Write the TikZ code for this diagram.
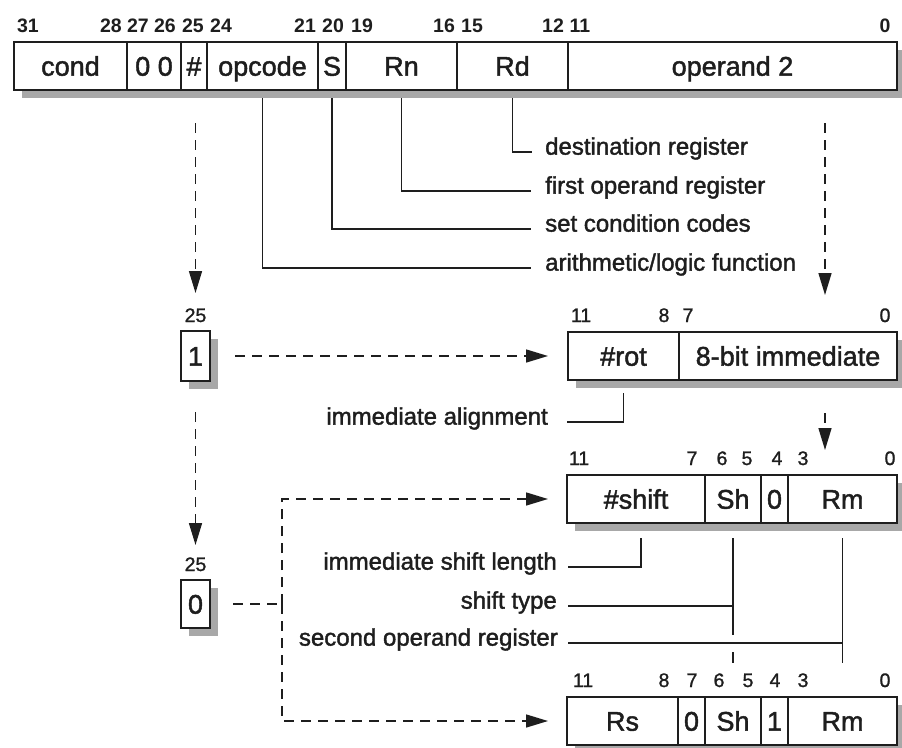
\documentclass[tikz,border=0pt]{standalone}
\usepackage{fontspec}
\setmainfont{Liberation Sans}
\newfontfamily\medfont{Liberation Sans}[FakeBold=1.6]
\newfontfamily\lowfont{Liberation Sans}[FakeBold=1.2]
\newfontfamily\topdigits{Liberation Sans Bold}
\usetikzlibrary{arrows.meta,backgrounds}
\definecolor{ink}{HTML}{1E1E1E}
\definecolor{shade}{HTML}{A8A8A8}
\begin{document}
\begin{tikzpicture}[x=1pt,y=-1pt,
  fld/.style={draw=ink, line width=1.8pt, fill=white, inner sep=0pt, outer sep=0pt,
    minimum height=48pt, anchor=north west, font=\medfont\fontsize{27}{30}\selectfont,
    text height=19.4pt, text depth=0pt, text=ink},
  bit/.style={anchor=base, inner sep=0pt, font=\lowfont\fontsize{19.5}{21}\selectfont, text=ink},
  tbit/.style={anchor=base, inner sep=0pt, font=\topdigits\fontsize{19.5}{21}\selectfont, text=ink},
  lab/.style={inner sep=0pt, font=\medfont\fontsize{24}{28}\selectfont, text=ink},
  lead/.style={draw=ink, line width=1.4pt},
  dline/.style={draw=ink, line width=1.5pt, dash pattern=on 10pt off 7pt},
  dsh/.style={dline, -{Triangle[length=22pt,width=13pt]}},
  shd/.style={fill=shade, draw=none}]
\useasboundingbox (0,0) rectangle (902,747);

% ---------- top instruction word ----------
\node[fld, minimum width=113pt] (cond) at (14,42) {cond};
\node[fld, minimum width=54pt]  (zz)   at (127,42) {0 0};
\node[fld, minimum width=26pt]  (hsh)  at (181,42) {\#};
\node[fld, minimum width=111pt] (opc)  at (207,42) {opcode};
\node[fld, minimum width=28pt]  (sbit) at (318,42) {S};
\node[fld, minimum width=111pt] (rn)   at (346,42) {Rn};
\node[fld, minimum width=111pt] (rd)   at (457,42) {Rd};
\node[fld, minimum width=329pt] (op2)  at (568,42) {operand 2};

\node[tbit] (t31) at (28,32) {31};
\node[tbit] (t28) at (111,32) {28};
\node[tbit] (t27) at (138,32) {27};
\node[tbit] (t26) at (165,32) {26};
\node[tbit] (t25) at (193,32) {25};
\node[tbit] (t24) at (221,32) {24};
\node[tbit] (t21) at (305,32) {21};
\node[tbit] (t20) at (333,32) {20};
\node[tbit] (t19) at (362,32) {19};
\node[tbit] (t16) at (444,32) {16};
\node[tbit] (t15) at (472,32) {15};
\node[tbit] (t12) at (553,32) {12};
\node[tbit] (t11) at (580,32) {11};
\node[tbit] (t0)  at (885,32) {0};

% ---------- rotate immediate ----------
\node[fld, minimum width=111pt] (rot)  at (568,332) {\#rot};
\node[fld, minimum width=218pt] (imm8) at (679,332) {8-bit immediate};
\node[bit] (r11) at (581,322) {11};
\node[bit] (r8)  at (664,322) {8};
\node[bit] (r7)  at (688,322) {7};
\node[bit] (r0)  at (885,322) {0};

% ---------- immediate shift ----------
\node[fld, minimum width=138pt] (shamt) at (567,475) {\#shift};
\node[fld, minimum width=56pt]  (sh)    at (705,475) {Sh};
\node[fld, minimum width=27pt]  (zb)    at (761,475) {0};
\node[fld, minimum width=109pt] (rm)    at (788,475) {Rm};
\node[bit] (s11) at (579,465) {11};
\node[bit] (s7)  at (692,465) {7};
\node[bit] (s6)  at (722,465) {6};
\node[bit] (s5)  at (747,465) {5};
\node[bit] (s4)  at (777,465) {4};
\node[bit] (s3)  at (803,465) {3};
\node[bit] (s0)  at (890,465) {0};

% ---------- register shift ----------
\node[fld, minimum width=111pt] (rs)  at (567,697) {Rs};
\node[fld, minimum width=27pt]  (zc)  at (678,697) {0};
\node[fld, minimum width=56pt]  (sh2) at (705,697) {Sh};
\node[fld, minimum width=27pt]  (one) at (761,697) {1};
\node[fld, minimum width=109pt] (rm2) at (788,697) {Rm};
\node[bit] (u11) at (583,687) {11};
\node[bit] (u8)  at (664,687) {8};
\node[bit] (u7)  at (692,687) {7};
\node[bit] (u6)  at (719,687) {6};
\node[bit] (u5)  at (748,687) {5};
\node[bit] (u4)  at (775,687) {4};
\node[bit] (u3)  at (803,687) {3};
\node[bit] (u0)  at (885,687) {0};

% ---------- bit 25 boxes ----------
\node[fld, minimum width=29pt, minimum height=50pt] (b1) at (181,331) {1};
\node[bit] (b1n) at (195.5,322) {25};
\node[fld, minimum width=29pt, minimum height=48pt] (b0) at (181,580) {0};
\node[bit] (b0n) at (195.5,571) {25};

% ---------- shadows ----------
\begin{scope}[on background layer]
\fill[shd] (22,50) rectangle (905,98);
\fill[shd] (576,340) rectangle (905,388);
\fill[shd] (575,483) rectangle (905,531);
\fill[shd] (575,705) rectangle (905,753);
\fill[shd] (189,339) rectangle (218,389);
\fill[shd] (189,588) rectangle (218,636);
\end{scope}

% ---------- field labels (top) ----------
\node[lab, anchor=mid west] (dest) at (545,152) {destination register};
\node[lab, anchor=mid west] (frst) at (545,191) {first operand register};
\node[lab, anchor=mid west] (setc) at (545,229) {set condition codes};
\node[lab, anchor=mid west] (alu)  at (545,268) {arithmetic/logic function};
\draw[lead] ([yshift=-8pt]rd.south)   |- ([xshift=-13pt]dest.mid west);
\draw[lead] ([yshift=-8pt]rn.south)   |- ([xshift=-14pt]frst.mid west);
\draw[lead] ([yshift=-8pt]sbit.south) |- ([xshift=-14pt]setc.mid west);
\draw[lead] ([yshift=-8pt]opc.south)  |- ([xshift=-14pt]alu.mid west);

% ---------- field labels (lower) ----------
\node[lab, anchor=mid east] (ialign) at (548,422) {immediate alignment};
\node[lab, anchor=mid east] (isl)    at (557,567) {immediate shift length};
\node[lab, anchor=mid east] (styp)   at (557,606) {shift type};
\node[lab, anchor=mid east] (sop)    at (558,643) {second operand register};
\draw[lead] ([yshift=-13pt]rot.south) |- ([xshift=19pt]ialign.mid east);
\draw[lead] ([xshift=5pt,yshift=-15pt]shamt.south) |- ([xshift=11pt]isl.mid east);
\draw[lead, shorten >=8pt] ([yshift=-15pt]sh.south) -- (sh.south |- sop.mid east);
\draw[lead, shorten <=9pt] (sh.south |- sop.mid east) -- ([yshift=34pt]sh2.north);
\draw[lead] ([xshift=11pt]styp.mid east) -- (sh.south |- styp.mid east);
\draw[lead] ([yshift=-15pt]rm.south) -- ([yshift=34pt]rm2.north);
\draw[lead] ([xshift=10pt]sop.mid east) -- (rm.south |- sop.mid east);

% ---------- dashed flow arrows ----------
\coordinate (lt) at (195.5,123);
\coordinate (rt) at (825,123);
\coordinate (jn) at (282,604);
\draw[dsh, shorten >=38pt] (lt) -- (lt |- b1.north);
\draw[dsh, shorten >=37pt] (rt) -- (rt |- rot.north);
\draw[dsh, shorten <=25pt, shorten >=20pt] (b1.east) -- (rot.west);
\draw[dsh, shorten <=31pt, shorten >=35pt] (b1.south) -- (b0.north);
\draw[dsh, shorten <=33pt, shorten >=25pt] (rt |- rot.south) -- (rt |- shamt.north);
\draw[dline, shorten <=23pt] (b0.east) -- (jn);
\draw[dsh, shorten >=19pt] (jn) |- (shamt.west);
\draw[dsh, shorten >=19pt] (jn) |- (rs.west);
\end{tikzpicture}
\end{document}
